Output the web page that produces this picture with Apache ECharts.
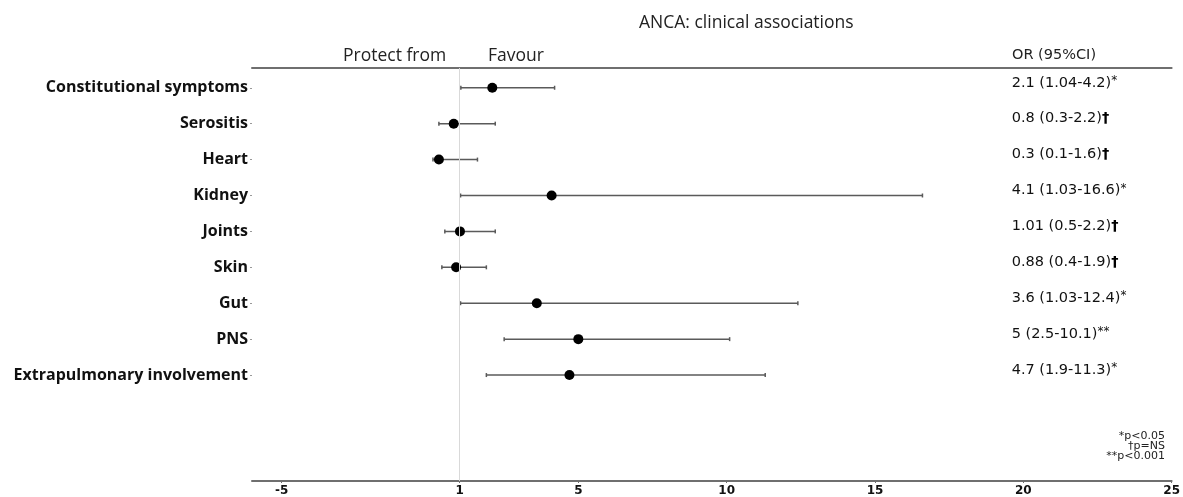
<!DOCTYPE html>
<html>
<head>
<meta charset="utf-8">
<script src="https://cdn.jsdelivr.net/npm/echarts@6/dist/echarts.min.js"></script>
<style>html,body{margin:0;padding:0;background:#fff;}#main{width:1183px;height:497px;}</style>
</head>
<body>
<div id="main"></div>
<script>
const categories = ['Constitutional symptoms','Serositis','Heart','Kidney','Joints','Skin','Gut','PNS','Extrapulmonary involvement'];
const orValues = [2.1, 0.8, 0.3, 4.1, 1.01, 0.88, 3.6, 5, 4.7];
const ciLow = [1.04, 0.3, 0.1, 1.03, 0.5, 0.4, 1.03, 2.5, 1.9];
const ciHigh = [4.2, 2.2, 1.6, 16.6, 2.2, 1.9, 12.4, 10.1, 11.3];
const sigMarks = ['*', '\u2020', '\u2020', '*', '\u2020', '\u2020', '*', '**', '*'];
const xTicks = [-5, 1, 5, 10, 15, 20, 25];
const footnotes = ['*p<0.05', '\u2020p=NS', '**p<0.001'];
const rowIdx = categories.map((c, i) => i);
const orLabels = orValues.map((v, i) => {
  const m = sigMarks[i];
  const base = '{n|' + v + ' (' + ciLow[i] + '-' + ciHigh[i] + ')}';
  return m === '\u2020' ? base + '{d|\u2020}' : base + '{s|' + m + '}';
});

const chart = echarts.init(document.getElementById('main'), null, {renderer: 'canvas'});
const axisCol = '#6f6f6f';
const yBase = {type: 'value', inverse: true, min: -0.55, max: 10.95, splitLine: {show: false}};

chart.setOption({
  animation: false,
  backgroundColor: '#fff',
  title: {
    text: 'ANCA: clinical associations', left: 634, top: 9,
    textStyle: {fontFamily: 'Open Sans', fontSize: 17.5, fontWeight: 'normal', color: '#222'}
  },
  grid: {left: 252, right: 9, top: 68, bottom: 11, containLabel: false},
  xAxis: [{
    type: 'value', min: -6, max: 25, position: 'bottom',
    splitLine: {show: false},
    axisLine: {show: true, onZero: false, lineStyle: {color: axisCol, width: 2}},
    axisTick: {show: true, length: 2, customValues: xTicks, lineStyle: {color: axisCol}},
    axisLabel: {customValues: xTicks, margin: 4, fontFamily: 'DejaVu Sans', fontWeight: 'bold', fontSize: 12, color: '#111'}
  }, {
    type: 'value', min: -6, max: 25, position: 'top',
    splitLine: {show: false},
    axisLine: {show: true, onZero: false, lineStyle: {color: axisCol, width: 2}},
    axisTick: {show: false}, axisLabel: {show: false}
  }],
  yAxis: [Object.assign({}, yBase, {
    position: 'left',
    axisLine: {show: false, onZero: false},
    axisTick: {show: true, length: 2, customValues: rowIdx, lineStyle: {color: '#999'}},
    axisLabel: {customValues: rowIdx, formatter: v => categories[v] || '', margin: 4,
      fontFamily: 'Open Sans', fontWeight: 'bold', fontSize: 16, color: '#111'}
  }), Object.assign({}, yBase, {
    position: 'right', offset: -160,
    axisLine: {show: false, onZero: false}, axisTick: {show: false},
    axisLabel: {customValues: rowIdx, formatter: v => orLabels[v] || '', margin: 0, align: 'left',
      padding: [0, 0, 10, 0], fontFamily: 'DejaVu Sans', fontSize: 14.5, color: '#111',
      rich: {
        n: {fontFamily: 'DejaVu Sans', fontSize: 14.5, color: '#111'},
        s: {fontFamily: 'DejaVu Sans', fontSize: 12, color: '#111', padding: [0, 0, 4, 0]},
        d: {fontFamily: 'DejaVu Sans', fontWeight: 'bold', fontSize: 14.5, color: '#000'}
      }}
  })],
  graphic: [
    {type: 'text', left: 343, top: 47, style: {text: 'Protect from', font: '17.5px "Open Sans"', fill: '#222'}},
    {type: 'text', left: 488, top: 47, style: {text: 'Favour', font: '17.5px "Open Sans"', fill: '#222'}},
    {type: 'text', left: 1012, top: 48, style: {text: 'OR (95%CI)', font: '14.5px "DejaVu Sans"', fill: '#222'}}
  ].concat(footnotes.map((t, i) => ({
    type: 'text', x: 1165, y: 436 + i * 10,
    style: {text: t, font: '11px "DejaVu Sans"', fill: '#222', align: 'right', verticalAlign: 'middle'}
  }))),
  series: [{
    type: 'custom', xAxisIndex: 0, yAxisIndex: 0,
    data: rowIdx.map(i => [ciLow[i], ciHigh[i], i]),
    renderItem: function (params, api) {
      const a = api.coord([api.value(0), api.value(2)]);
      const b = api.coord([api.value(1), api.value(2)]);
      const st = {stroke: '#5a5a5a', lineWidth: 1.5};
      return {type: 'group', children: [
        {type: 'line', shape: {x1: a[0], y1: a[1], x2: b[0], y2: b[1]}, style: st},
        {type: 'line', shape: {x1: a[0], y1: a[1] - 2, x2: a[0], y2: a[1] + 2}, style: st},
        {type: 'line', shape: {x1: b[0], y1: b[1] - 2, x2: b[0], y2: b[1] + 2}, style: st}
      ]};
    },
    z: 2
  }, {
    type: 'scatter', xAxisIndex: 0, yAxisIndex: 0,
    data: rowIdx.map(i => [orValues[i], i]),
    symbol: 'circle', symbolSize: 10,
    itemStyle: {color: '#000', opacity: 1},
    z: 3,
    markLine: {
      silent: true, symbol: 'none', label: {show: false},
      lineStyle: {color: '#d9d9d9', width: 1, type: 'solid'},
      data: [{xAxis: 1}]
    }
  }]
});
</script>
</body>
</html>
